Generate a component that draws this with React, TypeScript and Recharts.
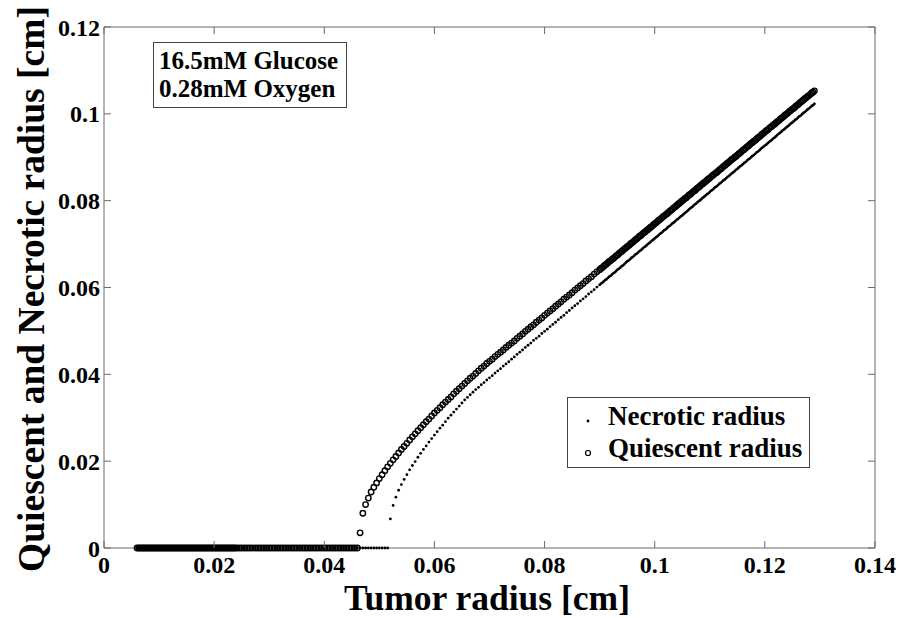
import React from 'react';
import {
	ScatterChart,
	Scatter,
	XAxis,
	YAxis,
	Legend,
	ReferenceLine,
} from 'recharts';

const FONT = "'Times New Roman', 'Liberation Serif', serif";
const FRAME = '#6a6a6a';

// plot box (MATLAB style frame with inward ticks on all four sides)
const PLOT_TOP = 27;
const PLOT_BOTTOM = 548;
const PLOT_LEFT = 104;
const PLOT_RIGHT = 875;
const TICK_LEN = 7;
const X_LABEL_GAP = 8;
const Y_LABEL_GAP = 4;

// Tumor radius samples [cm], shared by both series
const tumorRadius = [
	// resting phase: both radii sit on zero
	0.006, 0.0063, 0.0066, 0.0069, 0.0072, 0.0075, 0.0078, 0.0081, 0.0084, 0.0087, 0.009, 0.0093, 0.0096, 0.0099, 0.0102,
	0.0105, 0.0108, 0.0111, 0.0114, 0.0117, 0.012, 0.0123, 0.0126, 0.0129, 0.0132, 0.0135, 0.0138, 0.0141, 0.0144, 0.0147,
	0.015, 0.0153, 0.0156, 0.0159, 0.0162, 0.0165, 0.0168, 0.0171, 0.0174, 0.0177, 0.018, 0.0183, 0.0186, 0.0189, 0.0192,
	0.0195, 0.0198, 0.0201, 0.0204, 0.0207, 0.021, 0.0213, 0.0216, 0.0219, 0.0222, 0.0225, 0.0228, 0.0231, 0.0234, 0.0237,
	0.024, 0.0245, 0.025, 0.0255, 0.026, 0.0265, 0.027, 0.0275, 0.028, 0.0285, 0.029, 0.0295, 0.03, 0.0305, 0.031,
	0.0315, 0.032, 0.0325, 0.033, 0.0335, 0.034, 0.0345, 0.035, 0.0355, 0.036, 0.0365, 0.037, 0.0375, 0.038, 0.0385,
	0.039, 0.0395, 0.04, 0.0405, 0.041, 0.0415, 0.042, 0.0425, 0.043, 0.0435, 0.044, 0.0445, 0.045, 0.0455, 0.046,
	// early growth
	0.0465, 0.047, 0.0475, 0.048, 0.0485, 0.049, 0.0495, 0.05, 0.0505, 0.051,
	0.0515, 0.052, 0.0525, 0.053, 0.0535, 0.054, 0.0545, 0.055, 0.0555, 0.056,
	0.0565, 0.057, 0.0575, 0.058, 0.0585, 0.059, 0.0595, 0.06, 0.0605, 0.061,
	0.0615, 0.062, 0.0625, 0.063, 0.0635, 0.064, 0.0645, 0.065, 0.0655, 0.066,
	0.0665, 0.067, 0.0675, 0.068, 0.0685, 0.069, 0.0695, 0.07, 0.0705, 0.071,
	0.0715, 0.072, 0.0725, 0.073, 0.0735, 0.074, 0.0745, 0.075, 0.0755, 0.076,
	0.0765, 0.077, 0.0775, 0.078, 0.0785, 0.079, 0.0795, 0.08, 0.0805, 0.081,
	0.0815, 0.082, 0.0825, 0.083, 0.0835, 0.084, 0.0845, 0.085, 0.0855, 0.086,
	0.0865, 0.087, 0.0875, 0.088, 0.0885, 0.089, 0.0895, 0.09,
	// late growth (samples get denser)
	0.09025, 0.0905, 0.09075, 0.091, 0.09125, 0.0915, 0.09175, 0.092,
	0.09225, 0.0925, 0.09275, 0.093, 0.09325, 0.0935, 0.09375, 0.094,
	0.09425, 0.0945, 0.09475, 0.095, 0.09525, 0.0955, 0.09575, 0.096,
	0.09625, 0.0965, 0.09675, 0.097, 0.09725, 0.0975, 0.09775, 0.098,
	0.09825, 0.0985, 0.09875, 0.099, 0.09925, 0.0995, 0.09975, 0.1,
	0.10025, 0.1005, 0.10075, 0.101, 0.10125, 0.1015, 0.10175, 0.102,
	0.10225, 0.1025, 0.10275, 0.103, 0.10325, 0.1035, 0.10375, 0.104,
	0.10425, 0.1045, 0.10475, 0.105, 0.10525, 0.1055, 0.10575, 0.106,
	0.10625, 0.1065, 0.10675, 0.107, 0.10725, 0.1075, 0.10775, 0.108,
	0.10825, 0.1085, 0.10875, 0.109, 0.10925, 0.1095, 0.10975, 0.11,
	0.11025, 0.1105, 0.11075, 0.111, 0.11125, 0.1115, 0.11175, 0.112,
	0.11225, 0.1125, 0.11275, 0.113, 0.11325, 0.1135, 0.11375, 0.114,
	0.11425, 0.1145, 0.11475, 0.115, 0.11525, 0.1155, 0.11575, 0.116,
	0.11625, 0.1165, 0.11675, 0.117, 0.11725, 0.1175, 0.11775, 0.118,
	0.11825, 0.1185, 0.11875, 0.119, 0.11925, 0.1195, 0.11975, 0.12,
	0.12025, 0.1205, 0.12075, 0.121, 0.12125, 0.1215, 0.12175, 0.122,
	0.12225, 0.1225, 0.12275, 0.123, 0.12325, 0.1235, 0.12375, 0.124,
	0.12425, 0.1245, 0.12475, 0.125, 0.12525, 0.1255, 0.12575, 0.126,
	0.12625, 0.1265, 0.12675, 0.127, 0.12725, 0.1275, 0.12775, 0.128,
	0.12825, 0.1285, 0.12875, 0.129,
];

const quiescentRadius = [
	0, 0, 0, 0, 0, 0, 0, 0, 0, 0, 0, 0, 0, 0, 0,
	0, 0, 0, 0, 0, 0, 0, 0, 0, 0, 0, 0, 0, 0, 0,
	0, 0, 0, 0, 0, 0, 0, 0, 0, 0, 0, 0, 0, 0, 0,
	0, 0, 0, 0, 0, 0, 0, 0, 0, 0, 0, 0, 0, 0, 0,
	0, 0, 0, 0, 0, 0, 0, 0, 0, 0, 0, 0, 0, 0, 0,
	0, 0, 0, 0, 0, 0, 0, 0, 0, 0, 0, 0, 0, 0, 0,
	0, 0, 0, 0, 0, 0, 0, 0, 0, 0, 0, 0, 0, 0, 0,
	0.0035, 0.008, 0.01, 0.0115, 0.0129, 0.014, 0.015, 0.016, 0.0169, 0.0178,
	0.0187, 0.0195, 0.0203, 0.0211, 0.0219, 0.0227, 0.0234, 0.0241, 0.0249, 0.0256,
	0.0263, 0.027, 0.0277, 0.0284, 0.0291, 0.0297, 0.0304, 0.0311, 0.0317, 0.0323,
	0.033, 0.0336, 0.0342, 0.0348, 0.0355, 0.0361, 0.0367, 0.0373, 0.0379, 0.0385,
	0.0391, 0.0396, 0.0402, 0.0408, 0.0414, 0.0419, 0.0425, 0.043, 0.0435, 0.0441,
	0.0446, 0.0451, 0.0456, 0.0462, 0.0467, 0.0472, 0.0477, 0.0483, 0.0488, 0.0493,
	0.0499, 0.0504, 0.0509, 0.0514, 0.052, 0.0525, 0.053, 0.0536, 0.0541, 0.0546,
	0.0551, 0.0557, 0.0562, 0.0567, 0.0573, 0.0578, 0.0583, 0.0588, 0.0594, 0.0599,
	0.0604, 0.0609, 0.0615, 0.062, 0.0625, 0.0631, 0.0636, 0.0641,
	0.0644, 0.0646, 0.0649, 0.0652, 0.0654, 0.0657, 0.066, 0.0662,
	0.0665, 0.0667, 0.067, 0.0673, 0.0675, 0.0678, 0.0681, 0.0683,
	0.0686, 0.0689, 0.0691, 0.0694, 0.0696, 0.0699, 0.0702, 0.0704,
	0.0707, 0.071, 0.0712, 0.0715, 0.0718, 0.072, 0.0723, 0.0726,
	0.0728, 0.0731, 0.0733, 0.0736, 0.0739, 0.0741, 0.0744, 0.0747,
	0.0749, 0.0752, 0.0755, 0.0757, 0.076, 0.0763, 0.0765, 0.0768,
	0.077, 0.0773, 0.0776, 0.0778, 0.0781, 0.0784, 0.0786, 0.0789,
	0.0792, 0.0794, 0.0797, 0.08, 0.0802, 0.0805, 0.0807, 0.081,
	0.0813, 0.0815, 0.0818, 0.0821, 0.0823, 0.0826, 0.0829, 0.0831,
	0.0834, 0.0837, 0.0839, 0.0842, 0.0844, 0.0847, 0.085, 0.0852,
	0.0855, 0.0858, 0.086, 0.0863, 0.0865, 0.0868, 0.0871, 0.0873,
	0.0876, 0.0879, 0.0881, 0.0884, 0.0887, 0.0889, 0.0892, 0.0895,
	0.0897, 0.09, 0.0902, 0.0905, 0.0908, 0.091, 0.0913, 0.0916,
	0.0918, 0.0921, 0.0924, 0.0926, 0.0929, 0.0932, 0.0934, 0.0937,
	0.0939, 0.0942, 0.0945, 0.0947, 0.095, 0.0953, 0.0955, 0.0958,
	0.0961, 0.0963, 0.0966, 0.0969, 0.0971, 0.0974, 0.0976, 0.0979,
	0.0982, 0.0984, 0.0987, 0.099, 0.0992, 0.0995, 0.0998, 0.1,
	0.1003, 0.1006, 0.1008, 0.1011, 0.1013, 0.1016, 0.1019, 0.1021,
	0.1024, 0.1027, 0.1029, 0.1032, 0.1035, 0.1037, 0.104, 0.1042,
	0.1045, 0.1048, 0.105, 0.1053,
];

const necroticRadius = [
	0, 0, 0, 0, 0, 0, 0, 0, 0, 0, 0, 0, 0, 0, 0,
	0, 0, 0, 0, 0, 0, 0, 0, 0, 0, 0, 0, 0, 0, 0,
	0, 0, 0, 0, 0, 0, 0, 0, 0, 0, 0, 0, 0, 0, 0,
	0, 0, 0, 0, 0, 0, 0, 0, 0, 0, 0, 0, 0, 0, 0,
	0, 0, 0, 0, 0, 0, 0, 0, 0, 0, 0, 0, 0, 0, 0,
	0, 0, 0, 0, 0, 0, 0, 0, 0, 0, 0, 0, 0, 0, 0,
	0, 0, 0, 0, 0, 0, 0, 0, 0, 0, 0, 0, 0, 0, 0,
	0, 0, 0, 0, 0, 0, 0, 0, 0, 0,
	0, 0.0067, 0.0098, 0.0117, 0.0133, 0.0146, 0.0158, 0.0169, 0.018, 0.019,
	0.0199, 0.0209, 0.0218, 0.0227, 0.0235, 0.0244, 0.0252, 0.026, 0.0268, 0.0276,
	0.0283, 0.0291, 0.0299, 0.0306, 0.0313, 0.032, 0.0327, 0.0334, 0.0341, 0.0347,
	0.0353, 0.0359, 0.0365, 0.037, 0.0376, 0.0381, 0.0387, 0.0392, 0.0397, 0.0403,
	0.0408, 0.0413, 0.0419, 0.0424, 0.0429, 0.0435, 0.044, 0.0446, 0.0451, 0.0456,
	0.0462, 0.0467, 0.0472, 0.0478, 0.0483, 0.0488, 0.0494, 0.0499, 0.0504, 0.051,
	0.0515, 0.052, 0.0526, 0.0531, 0.0536, 0.0542, 0.0547, 0.0553, 0.0558, 0.0563,
	0.0569, 0.0574, 0.0579, 0.0585, 0.059, 0.0595, 0.0601, 0.0606,
	0.0609, 0.0611, 0.0614, 0.0617, 0.0619, 0.0622, 0.0625, 0.0627,
	0.063, 0.0633, 0.0635, 0.0638, 0.0641, 0.0643, 0.0646, 0.0649,
	0.0651, 0.0654, 0.0657, 0.066, 0.0662, 0.0665, 0.0668, 0.067,
	0.0673, 0.0676, 0.0678, 0.0681, 0.0684, 0.0686, 0.0689, 0.0692,
	0.0694, 0.0697, 0.07, 0.0702, 0.0705, 0.0708, 0.071, 0.0713,
	0.0716, 0.0718, 0.0721, 0.0724, 0.0726, 0.0729, 0.0732, 0.0734,
	0.0737, 0.074, 0.0742, 0.0745, 0.0748, 0.075, 0.0753, 0.0756,
	0.0758, 0.0761, 0.0764, 0.0766, 0.0769, 0.0772, 0.0774, 0.0777,
	0.078, 0.0783, 0.0785, 0.0788, 0.0791, 0.0793, 0.0796, 0.0799,
	0.0801, 0.0804, 0.0807, 0.0809, 0.0812, 0.0815, 0.0817, 0.082,
	0.0823, 0.0825, 0.0828, 0.0831, 0.0833, 0.0836, 0.0839, 0.0841,
	0.0844, 0.0847, 0.0849, 0.0852, 0.0855, 0.0857, 0.086, 0.0863,
	0.0865, 0.0868, 0.0871, 0.0873, 0.0876, 0.0879, 0.0881, 0.0884,
	0.0887, 0.0889, 0.0892, 0.0895, 0.0897, 0.09, 0.0903, 0.0905,
	0.0908, 0.0911, 0.0913, 0.0916, 0.0919, 0.0922, 0.0924, 0.0927,
	0.0929, 0.0932, 0.0935, 0.0937, 0.094, 0.0943, 0.0945, 0.0948,
	0.0951, 0.0954, 0.0956, 0.0959, 0.0962, 0.0964, 0.0967, 0.097,
	0.0972, 0.0975, 0.0978, 0.098, 0.0983, 0.0986, 0.0988, 0.0991,
	0.0994, 0.0996, 0.0999, 0.1002, 0.1004, 0.1007, 0.101, 0.1012,
	0.1015, 0.1018, 0.102, 0.1023,
];

const xTicks = [0, 0.02, 0.04, 0.06, 0.08, 0.1, 0.12, 0.14];
const yTicks = [0, 0.02, 0.04, 0.06, 0.08, 0.1, 0.12];
const conditions = ['16.5mM Glucose', '0.28mM Oxygen'];

const necroticData = tumorRadius.map((x, i) => ({ x, y: necroticRadius[i] }));
const quiescentData = tumorRadius.map((x, i) => ({ x, y: quiescentRadius[i] }));

const NecroticDot = (props: any) => (
	<circle cx={props.cx} cy={props.cy} r={1.4} fill="#000" />
);

const QuiescentRing = (props: any) => (
	<circle cx={props.cx} cy={props.cy} r={2.7} fill="none" stroke="#000" strokeWidth={1.4} />
);

// bottom tick: label plus inward tick marks on bottom and top edges
const XTick = (props: any) => {
	const { x, y, payload } = props;
	const axisY = y - X_LABEL_GAP;
	const topY = axisY - (PLOT_BOTTOM - PLOT_TOP);
	return (
		<g>
			<line x1={x} x2={x} y1={axisY} y2={axisY - TICK_LEN} stroke={FRAME} />
			<line x1={x} x2={x} y1={topY} y2={topY + TICK_LEN} stroke={FRAME} />
			<text
				x={x}
				y={y}
				dy="0.71em"
				textAnchor="middle"
				fontFamily={FONT}
				fontWeight="bold"
				fontSize={24}
				fill="#000"
			>
				{payload.value}
			</text>
		</g>
	);
};

// left tick: label plus inward tick marks on left and right edges
const YTick = (props: any) => {
	const { x, y, payload } = props;
	const axisX = x + Y_LABEL_GAP;
	const rightX = axisX + (PLOT_RIGHT - PLOT_LEFT);
	return (
		<g>
			<line x1={axisX} x2={axisX + TICK_LEN} y1={y} y2={y} stroke={FRAME} />
			<line x1={rightX} x2={rightX - TICK_LEN} y1={y} y2={y} stroke={FRAME} />
			<text
				x={x}
				y={y}
				dy="0.355em"
				textAnchor="end"
				fontFamily={FONT}
				fontWeight="bold"
				fontSize={24}
				fill="#000"
			>
				{payload.value}
			</text>
		</g>
	);
};

function LegendBox({ payload }: any) {
	return (
		<div
			style={{
				width: '100%',
				height: '100%',
				boxSizing: 'border-box',
				border: '1px solid #444',
				background: '#fff',
				paddingTop: 2,
				fontFamily: FONT,
				fontWeight: 'bold',
				fontSize: 27,
				lineHeight: '32px',
				color: '#000',
			}}
		>
			{(payload || []).map((entry: any) => (
				<div key={entry.value} style={{ display: 'flex', height: 32 }}>
					<svg width={40} height={32} style={{ flex: 'none' }}>
						{entry.value === 'Necrotic radius' ? (
							<circle cx={20} cy={21} r={1.4} fill="#000" />
						) : (
							<circle cx={20} cy={21} r={2.5} fill="none" stroke="#000" strokeWidth={1.2} />
						)}
					</svg>
					<span style={{ whiteSpace: 'nowrap' }}>{entry.value}</span>
				</div>
			))}
		</div>
	);
}

const XTitle = () => (
	<text x={487} y={610} textAnchor="middle" fontFamily={FONT} fontWeight="bold" fontSize={35.5} fill="#000">
		Tumor radius [cm]
	</text>
);

const YTitle = () => (
	<text
		x={44}
		y={289}
		transform="rotate(-90, 44, 289)"
		textAnchor="middle"
		fontFamily={FONT}
		fontWeight="bold"
		fontSize={37.5}
		fill="#000"
	>
		Quiescent and Necrotic radius [cm]
	</text>
);

export default function App() {
	return (
		<div style={{ position: 'absolute', left: 0, top: 0, width: 904, height: 618, background: '#fff' }}>
			<ScatterChart
				width={904}
				height={618}
				margin={{ top: PLOT_TOP, right: 904 - PLOT_RIGHT, bottom: 0, left: 0 }}
			>
				<XAxis
					type="number"
					dataKey="x"
					domain={[0, 0.14]}
					ticks={xTicks}
					height={618 - PLOT_BOTTOM}
					tickSize={0}
					tickLine={false}
					tickMargin={X_LABEL_GAP}
					tick={<XTick />}
					stroke={FRAME}
					label={<XTitle />}
				/>
				<YAxis
					type="number"
					dataKey="y"
					domain={[0, 0.12]}
					ticks={yTicks}
					width={PLOT_LEFT}
					tickSize={0}
					tickLine={false}
					tickMargin={Y_LABEL_GAP}
					tick={<YTick />}
					stroke={FRAME}
					label={<YTitle />}
				/>
				<ReferenceLine y={0.12} stroke={FRAME} />
				<ReferenceLine x={0.14} stroke={FRAME} />
				<Scatter
					name="Necrotic radius"
					data={necroticData}
					shape={NecroticDot}
					isAnimationActive={false}
				/>
				<Scatter
					name="Quiescent radius"
					data={quiescentData}
					shape={QuiescentRing}
					isAnimationActive={false}
				/>
				<Legend
					layout="horizontal"
					verticalAlign="middle"
					align="center"
					content={<LegendBox />}
					wrapperStyle={{ position: 'absolute', left: 567, top: 397, width: 243, height: 71 }}
				/>
			</ScatterChart>
			<div
				style={{
					position: 'absolute',
					left: 153,
					top: 42,
					width: 194,
					height: 66,
					boxSizing: 'border-box',
					border: '1px solid #444',
					paddingTop: 4,
					paddingLeft: 5,
					fontFamily: FONT,
					fontWeight: 'bold',
					fontSize: 25,
					lineHeight: '28px',
					color: '#000',
					whiteSpace: 'nowrap',
				}}
			>
				{conditions.map((c) => (
					<div key={c}>{c}</div>
				))}
			</div>
		</div>
	);
}
